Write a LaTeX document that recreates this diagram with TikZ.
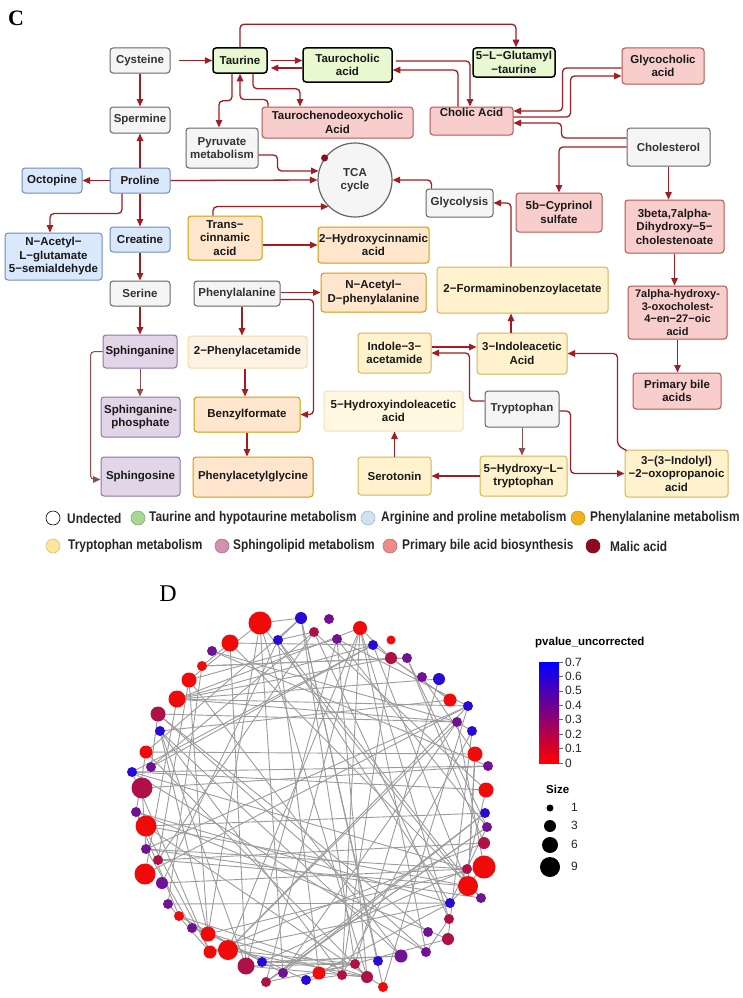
\documentclass[tikz,border=0pt]{standalone}
\usepackage{fontspec}
\setmainfont{Liberation Sans}
\newfontfamily\serifC{Liberation Serif}
\newfontfamily\legfont[FakeStretch=0.85]{Liberation Sans}
\usetikzlibrary{arrows.meta,calc}
\definecolor{boxgray}{HTML}{F5F5F5}
\definecolor{brdgray}{HTML}{666666}
\definecolor{txtgray}{HTML}{333333}
\definecolor{tgreen}{HTML}{E8F8D0}
\definecolor{ablue}{HTML}{DAE8FC}
\definecolor{ablueb}{HTML}{6C8EBF}
\definecolor{porange}{HTML}{FFE6CC}
\definecolor{porangeb}{HTML}{D79B00}
\definecolor{tyellow}{HTML}{FFF2CC}
\definecolor{tyellowb}{HTML}{D6B656}
\definecolor{bpink}{HTML}{F8CECC}
\definecolor{bpinkb}{HTML}{B85450}
\definecolor{spurple}{HTML}{E1D5E7}
\definecolor{spurpleb}{HTML}{9673A6}
\definecolor{arrred}{HTML}{A11D21}
\definecolor{arrbrown}{HTML}{8F4D4D}
\definecolor{malic}{HTML}{8B0A1E}
\definecolor{lgreen}{HTML}{A8D898}
\definecolor{lblue}{HTML}{CFE2F3}
\definecolor{lorange}{HTML}{F2B21E}
\definecolor{lyellow}{HTML}{FDE59A}
\definecolor{lmauve}{HTML}{D58FB0}
\definecolor{lsalmon}{HTML}{F08B8B}
\definecolor{nr}{RGB}{240,10,10}
\definecolor{nc}{RGB}{176,16,72}
\definecolor{np}{RGB}{112,18,150}
\definecolor{nb}{RGB}{40,10,215}
\definecolor{edgegray}{HTML}{9C9C9C}
\pgfdeclarelayer{bg}
\pgfsetlayers{bg,main}
\tikzset{
  box/.style={draw, rounded corners=3pt, line width=1pt, align=center, inner sep=1pt,
    font=\bfseries\fontsize{11.5}{13.5}\selectfont, text=black!90},
  gbox/.style={box, fill=boxgray, draw=brdgray, text=txtgray},
  tbox/.style={box, fill=tgreen, draw=black, line width=1.5pt},
  abox/.style={box, fill=ablue, draw=ablueb},
  pbox/.style={box, fill=porange, draw=porangeb},
  ybox/.style={box, fill=tyellow, draw=tyellowb},
  lybox/.style={box, fill=tyellow!60, draw=tyellowb!40},
  bbox/.style={box, fill=bpink, draw=bpinkb},
  sbox/.style={box, fill=spurple, draw=spurpleb},
  arr/.style={draw=arrred, line width=1.3pt, rounded corners=4pt, -{Triangle[length=7.5pt,width=6.5pt]}},
  arrl/.style={arr, draw=arrbrown, line width=1pt},
  leg/.style={circle, minimum size=14pt, inner sep=0pt, line width=0.6pt},
  legt/.style={anchor=west, inner sep=0pt, font=\legfont\bfseries\fontsize{14}{16}\selectfont, text=black!85},
  net/.style={circle, inner sep=0pt},
  edge/.style={draw=edgegray, line width=0.9pt},
  tick/.style={anchor=west, inner sep=0pt, font=\fontsize{12}{13}\selectfont, text=black!85},
}
\begin{document}
\begin{tikzpicture}[x=1pt,y=-1pt]
\useasboundingbox (0,0) rectangle (743,998);
\begin{pgfonlayer}{bg}
\fill[white] (0,0) rectangle (743,998);
\end{pgfonlayer}

% ---------- panel labels
\node[font=\serifC\bfseries\fontsize{22}{24}\selectfont] (labC) at (16,18) {C};
\node[font=\serifC\fontsize{24}{26}\selectfont] (labD) at (168,594) {D};

% ---------- panel C boxes
\node[gbox, minimum width=60pt, minimum height=25pt] (cys) at (140,60.5) {Cysteine};
\node[tbox, minimum width=54pt, minimum height=25pt] (tau) at (240,60.5) {Taurine};
\node[tbox, minimum width=89pt, minimum height=34pt] (taucho) at (347.5,65) {Taurocholic\\acid};
\node[tbox, minimum width=82pt, minimum height=29pt] (glut) at (514,62.5) {5−L−Glutamyl\\−taurine};
\node[bbox, minimum width=82pt, minimum height=36pt] (glyco) at (663,66) {Glycocholic\\acid};
\node[bbox, minimum width=151pt, minimum height=31pt] (tcdca) at (337.5,122.5) {Taurochenodeoxycholic\\Acid};
\node[bbox, minimum width=83pt, minimum height=28pt, text depth=17pt] (cholic) at (471.5,121) {Cholic Acid};
\node[gbox, minimum width=83pt, minimum height=38pt] (chol) at (668.5,147) {Cholesterol};
\node[gbox, minimum width=60pt, minimum height=26pt] (sper) at (140,120) {Spermine};
\node[gbox, minimum width=72pt, minimum height=40pt] (pyr) at (222,148) {Pyruvate\\metabolism};
\node[circle, draw=brdgray, fill=boxgray, line width=1.2pt, minimum size=74pt, inner sep=0pt, align=center,
  font=\bfseries\fontsize{11.5}{13.5}\selectfont, text=txtgray] (tca) at (355,180) {TCA\\cycle};
\node[circle, fill=malic, minimum size=7pt, inner sep=0pt] (mal) at (tca.144) {};
\node[gbox, minimum width=67pt, minimum height=28pt] (glyc) at (459.5,203) {Glycolysis};
\node[bbox, minimum width=86pt, minimum height=39pt] (cyp) at (559,212.5) {5b−Cyprinol\\sulfate};
\node[bbox, minimum width=99pt, minimum height=53pt] (beta) at (674.5,226.5) {3beta,7alpha-\\Dihydroxy−5−\\cholestenoate};
\node[abox, minimum width=60pt, minimum height=25pt] (pro) at (140,180.5) {Proline};
\node[abox, minimum width=60pt, minimum height=25pt] (oct) at (52,180.5) {Octopine};
\node[abox, minimum width=97pt, minimum height=47pt] (nac) at (53.5,256.5) {N−Acetyl−\\L−glutamate\\5−semialdehyde};
\node[abox, minimum width=60pt, minimum height=25pt] (cre) at (140,239.5) {Creatine};
\node[pbox, minimum width=74pt, minimum height=44pt] (tcin) at (225,238) {Trans−\\cinnamic\\acid};
\node[pbox, minimum width=111pt, minimum height=36pt] (hcin) at (373.5,245) {2−Hydroxycinnamic\\acid};
\node[gbox, minimum width=60pt, minimum height=25pt] (ser) at (140,293.5) {Serine};
\node[gbox, minimum width=86pt, minimum height=25pt] (phe) at (237,293.5) {Phenylalanine};
\node[pbox, minimum width=105pt, minimum height=39pt] (nadp) at (373.5,292.5) {N−Acetyl−\\D−phenylalanine};
\node[ybox, minimum width=171pt, minimum height=46pt] (fab) at (522.5,290) {2−Formaminobenzoylacetate};
\node[bbox, minimum width=99pt, minimum height=53pt, font=\bfseries\fontsize{11}{12.8}\selectfont] (oxo) at (677.5,312.5) {7alpha-hydroxy-\\3-oxocholest-\\4−en−27−oic\\acid};
\node[sbox, minimum width=74pt, minimum height=33pt] (sph) at (140,351.5) {Sphinganine};
\node[lybox, fill=porange!55, draw=porangeb!35, minimum width=119pt, minimum height=32pt] (pam) at (247.5,352) {2−Phenylacetamide};
\node[ybox, minimum width=73pt, minimum height=40pt] (iam) at (394.5,353) {Indole−3−\\acetamide};
\node[ybox, minimum width=90pt, minimum height=41pt] (iaa) at (522,353.5) {3−Indoleacetic\\Acid};
\node[bbox, minimum width=88pt, minimum height=36pt] (pba) at (677,391) {Primary bile\\acids};
\node[sbox, minimum width=79pt, minimum height=40pt] (s1p) at (140.5,417) {Sphinganine-\\phosphate};
\node[pbox, minimum width=106pt, minimum height=35pt] (bzf) at (247,414.5) {Benzylformate};
\node[lybox, minimum width=139pt, minimum height=40pt] (hiaa) at (393.5,411) {5−Hydroxyindoleacetic\\acid};
\node[gbox, minimum width=74pt, minimum height=36pt] (trp) at (522,409) {Tryptophan};
\node[sbox, minimum width=79pt, minimum height=39pt] (sgo) at (140.5,476.5) {Sphingosine};
\node[pbox, minimum width=120pt, minimum height=40pt] (pag) at (253,477) {Phenylacetylglycine};
\node[ybox, minimum width=73pt, minimum height=38pt] (sero) at (394.5,476) {Serotonin};
\node[ybox, minimum width=87pt, minimum height=40pt] (htp) at (523.5,476) {5−Hydroxy−L−\\tryptophan};
\node[ybox, minimum width=103pt, minimum height=47pt] (ipa) at (676.5,473.5) {3−(3−Indolyl)\\−2−oxopropanoic\\acid};

% ---------- panel C connectors
\draw[arr] ($(cys.east)+(8,0)$) -- (tau.west);
\draw[arr] (cys.south) -- (sper.north);
\draw[arr] (pro.north) -- (sper.south);
\draw[arr] (pro.west) -- (oct.east);
\draw[arr] ([xshift=-18pt]pro.south) -- ++(0,20) -| ([xshift=-3.5pt]nac.north);
\draw[arr] (pro.south) -- (cre.north);
\draw[arr] (cre.south) -- (ser.north);
\draw[arr] (ser.south) -- (sph.north);
\draw[arrl] (sph.south) -- (sph.south |- s1p.north);
\draw[arrl] (sph.west) -- ++(-12,0) |- ($(sgo.west)+(0,3)$);
\draw[arr] (pro.east) -- (tca.west);
\draw[arr] ($(tau.east)+(3,0)$) -- (taucho.west |- tau.east);
\coordinate (tcret) at ($(taucho.west)+(0,3)$);
\draw[arr] (tcret) -- ($(tau.east |- tcret)+(3,0)$);
\draw[arr] (tau.north) -- ++(0,-23) -| ([xshift=2pt]glut.north);
\draw[arr] ([xshift=13pt]tau.south) -- ++(0,15) -| ([xshift=-37.5pt]tcdca.north);
\draw[arr] ([xshift=-69.5pt]tcdca.north) -- ++(0,-7) -| (tau.south);
\draw[arr] ([xshift=-8pt]tau.south) -- ++(0,27) -| ([xshift=-3pt]pyr.north);
\draw[arr] ($(pyr.east)+(0,7)$) -- ++(19,0) |- (tca.166);
\draw[arr] ([xshift=-12pt]tcin.north) |- (tca.225);
\coordinate (p19) at ($(tcin.east)+(0,7)$);
\draw[arr] (p19) -- (hcin.west |- p19);
\draw[arr] ([xshift=-28pt]glyc.north) |- (tca.east);
\draw[arr] ([xshift=-11.5pt]fab.north) |- (glyc.east);
\draw[arr] ($(taucho.east)+(3,-4)$) -| ([xshift=-1.5pt]cholic.north);
\draw[arr] ([xshift=-13.5pt]cholic.north) |- ($(taucho.east)+(0,5)$);
\draw[arr] ($(glyco.west)+(0,2)$) -- ++(-59,0) |- ($(cholic.east)+(0,-10)$);
\draw[arr] ($(cholic.east)+(0,-4)$) -- ++(57,0) |- ($(glyco.west)+(0,10)$);
\draw[arr] ($(chol.west)+(0,-9)$) -- ++(-65,0) |- ($(cholic.east)+(0,2)$);
\draw[arr] (chol.west) -| (cyp.north);
\draw[arr] (chol.south) -- (chol.south |- beta.north);
\draw[arr] (beta.south) -- (beta.south |- oxo.north);
\draw[arr] (oxo.south) -- (oxo.south |- pba.north);
\draw[arr] (phe.east |- nadp.west) -- (nadp.west);
\draw[arr] ($(phe.east)+(0,6)$) -- ++(33,0) |- (bzf.east);
\draw[arr] ([xshift=5pt]phe.south) -- ([xshift=5pt]phe.south |- pam.north);
\draw[arr] ([xshift=-2.5pt]pam.south) -- ([xshift=-2.5pt]pam.south |- bzf.north);
\draw[arr] (bzf.south) -- (bzf.south |- pag.north);
\draw[arr] ([xshift=-11pt]iaa.north) -- ([xshift=-11pt]iaa.north |- fab.south);
\coordinate (p37) at ($(iam.east)+(0,-6)$);
\draw[arr] (p37) -- (iaa.west |- p37);
\draw[arr] ($(trp.west)+(0,-8)$) -- ++(-15,0) |- (iam.east);
\draw[arr] ($(ipa.north west)+(2,1)$) -- ++(-9,-5) |- (iaa.east);
\draw[arr] ($(trp.east)+(0,2)$) -- ++(11,0) |- (ipa.west);
\draw[arrl] (trp.south) -- (trp.south |- htp.north);
\draw[arr] (htp.west) -- (sero.east);
\draw[arr] (sero.north) -- (sero.north |- hiaa.south);

% ---------- legend
\node[leg, draw=black, fill=white] (l1) at (53,518) {};
\node[legt] (t1) at (67,518) {Undected};
\node[leg, draw=lgreen!80!black, fill=lgreen] (l2) at (138,518) {};
\node[legt] (t2) at (149,518) {Taurine and hypotaurine metabolism};
\node[leg, draw=ablueb!60, fill=lblue] (l3) at (368,518) {};
\node[legt] (t3) at (381,518) {Arginine and proline metabolism};
\node[leg, draw=lorange!85!black, fill=lorange] (l4) at (578,518) {};
\node[legt] (t4) at (590,518) {Phenylalanine metabolism};
\node[leg, draw=lyellow!85!black, fill=lyellow] (l5) at (53,546) {};
\node[legt] (t5) at (68,546) {Tryptophan metabolism};
\node[leg, draw=lmauve!80!black, fill=lmauve] (l6) at (222,546) {};
\node[legt] (t6) at (233,546) {Sphingolipid metabolism};
\node[leg, draw=lsalmon!80!black, fill=lsalmon] (l7) at (390,546) {};
\node[legt] (t7) at (402,546) {Primary bile acid biosynthesis};
\node[leg, draw=malic, fill=malic] (l8) at (593,546) {};
\node[legt] (t8) at (610,546) {Malic acid};

% ---------- panel D network
\foreach \i/\x/\y/\r/\c in {
1/260/623/11.5/nr,2/301/618/6/nb,3/329/619/5/np,4/360/628/7/nr,5/314/632/5/nc,6/278/640/5/nb,
7/337/639/5/np,8/391/640/4.5/nr,9/373/645/5/nb,10/230/643/8.5/nr,11/212/651/5/np,12/391/658/6/nc,
13/407/658/5/np,14/202/666/5/nr,15/189/680/7.5/nr,16/422/677/5/np,17/439/679/6/nb,18/177/699/8.5/nr,
19/450/700/6.5/nr,20/468/706/5/nb,21/158/714/7.5/nc,22/457/722/5/np,23/160/731/5/nb,24/472/731/5/nb,
25/146/752/6.5/nr,26/475/754/7.5/nr,27/132/772/5/nb,28/151/767/5/np,29/488/766/5/np,30/142/788/10.5/nc,
31/486/790/7.5/nr,32/136/812/5/np,33/485/813/5/nb,34/146/826/10.5/nr,35/487/827/5/np,36/146/849/5/np,
37/484/843/6/nc,38/158/860/5/nc,39/145/874/10.5/nr,40/484/867/11.5/nr,41/467/869/5/nc,42/162/883/6/np,
43/468/886/10/nr,44/481/898/5/np,45/168/904/5/np,46/450/903/5/nb,47/179/916/5/nr,48/449/919/5/nc,
49/192/928/5/np,50/208/934/7.5/nr,51/428/932/5/np,52/448/939/6/nc,53/210/952/6.5/nr,54/228/950/10/nr,
55/426/952/5/np,56/246/966/8.5/nc,57/262/962/5/nb,58/401/956/6.5/np,59/378/961/5/nb,60/283/973/5/np,
61/266/982/5/nc,62/355/964/5/nc,63/306/980/5/nb,64/319/973/6.5/nr,65/342/975/5/nc,66/367/977/6/nc,
67/383/987/5/nr}
  {\node[net, fill=\c, minimum size={2*\r}] (n\i) at (\x,\y) {};}

\begin{pgfonlayer}{bg}
\pgfmathsetseed{4242}
\foreach \k in {1,...,122}{
  \pgfmathrandominteger{\a}{1}{67}
  \pgfmathrandominteger{\b}{1}{67}
  \draw[edge] (n\a.center) -- (n\b.center);
}
\foreach \i in {1,5,...,65}{
  \pgfmathtruncatemacro{\j}{\i+1}
  \draw[edge] (n\i.center) -- (n\j.center);
}
\end{pgfonlayer}

% ---------- colour bar and size legend
\node[anchor=west, inner sep=0pt, font=\bfseries\fontsize{11.5}{13}\selectfont] (cbt) at (535,643) {pvalue\_uncorrected};
\shade[bottom color=red, top color=blue] (539,662) rectangle (559,763);
\foreach \v [count=\k from 0] in {0,0.1,0.2,0.3,0.4,0.5,0.6,0.7}{
  \draw[black!60, line width=0.5pt] (559,763-\k*14.43) -- (563,763-\k*14.43);
  \node[tick] (tk\k) at (565,763-\k*14.43) {\v};
}
\node[anchor=west, inner sep=0pt, font=\bfseries\fontsize{11.5}{13}\selectfont] (szt) at (546,789) {Size};
\node[net, fill=black, minimum size=7pt] (s1) at (550,808) {};
\node[tick] (s1t) at (571,807) {1};
\node[net, fill=black, minimum size=12pt] (s3) at (550,826) {};
\node[tick] (s3t) at (571,825) {3};
\node[net, fill=black, minimum size=16pt] (s6) at (550,845) {};
\node[tick] (s6t) at (571,844) {6};
\node[net, fill=black, minimum size=20pt] (s9) at (550,867) {};
\node[tick] (s9t) at (571,866) {9};
\end{tikzpicture}
\end{document}
